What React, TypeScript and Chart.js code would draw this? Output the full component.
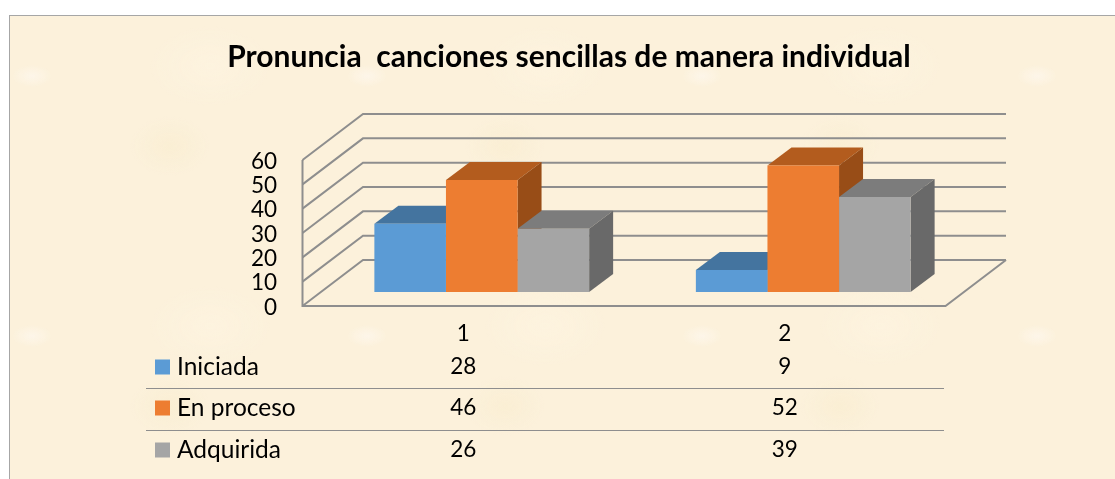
import React, { useEffect, useRef } from "react";
import { Chart, registerables } from "chart.js";

Chart.register(...registerables);

const categories = ["1", "2"];
const seriesNames = ["Iniciada", "En proceso", "Adquirida"];
const iniciada = [28, 9];
const enProceso = [46, 52];
const adquirida = [26, 39];
const frontColors = ["#5B9BD5", "#ED7D31", "#A5A5A5"];
const topColors = ["#44749F", "#B35C1E", "#7C7C7C"];
const sideColors = ["#3E6A92", "#984D17", "#696969"];
const titleText = "Pronuncia  canciones sencillas de manera individual";
const FONT = "Lato, Carlito, Calibri, sans-serif";

const threeD = {
  id: "threeD",
  beforeDatasetsDraw(chart: any) {
    const { ctx, chartArea: a, scales } = chart;
    const y = scales.y;
    const frontDx = -18.5, frontDy = 14, backDx = 42, backDy = -32;
    ctx.save();
    ctx.strokeStyle = "#8E8E8E";
    ctx.lineWidth = 2;
    y.ticks.forEach((t: any) => {
      const py = y.getPixelForValue(t.value);
      ctx.beginPath();
      ctx.moveTo(a.left + frontDx, py + frontDy);
      ctx.lineTo(a.left + backDx, py + backDy);
      ctx.lineTo(a.right + backDx, py + backDy);
      ctx.stroke();
    });
    const y0 = y.getPixelForValue(0), yMax = y.getPixelForValue(y.max);
    ctx.beginPath();
    ctx.moveTo(a.left + frontDx, yMax + frontDy);
    ctx.lineTo(a.left + frontDx, y0 + frontDy);
    ctx.lineTo(a.right + frontDx, y0 + frontDy);
    ctx.lineTo(a.right + backDx, y0 + backDy);
    ctx.stroke();

    const dx = 24, dy = -18;
    chart.data.datasets.forEach((_: any, i: number) => {
      chart.getDatasetMeta(i).data.forEach((bar: any) => {
        const p = bar.getProps(["x", "y", "base", "width"], true);
        const l = p.x - p.width / 2, r = p.x + p.width / 2;
        ctx.fillStyle = topColors[i];
        ctx.beginPath();
        ctx.moveTo(l, p.y);
        ctx.lineTo(l + dx, p.y + dy);
        ctx.lineTo(r + dx, p.y + dy);
        ctx.lineTo(r, p.y);
        ctx.closePath();
        ctx.fill();
        ctx.fillStyle = sideColors[i];
        ctx.beginPath();
        ctx.moveTo(r, p.y);
        ctx.lineTo(r + dx, p.y + dy);
        ctx.lineTo(r + dx, p.base + dy);
        ctx.lineTo(r, p.base);
        ctx.closePath();
        ctx.fill();
      });
    });
    ctx.restore();
  },
  afterDraw(chart: any) {
    const { ctx, scales, data } = chart;
    const x = scales.x;
    const rowY = [367, 408, 450];
    const colOffset = -18.5;
    ctx.save();
    ctx.strokeStyle = "#8E8E8E";
    ctx.lineWidth = 1;
    [388.5, 430.5].forEach((ly) => {
      ctx.beginPath();
      ctx.moveTo(146, ly);
      ctx.lineTo(944, ly);
      ctx.stroke();
    });
    ctx.textBaseline = "middle";
    data.datasets.forEach((ds: any, i: number) => {
      ctx.fillStyle = frontColors[i];
      ctx.fillRect(155, rowY[i] - 7.5, 15, 15);
      ctx.fillStyle = "#000";
      ctx.textAlign = "left";
      ctx.font = `24.5px ${FONT}`;
      ctx.fillText(ds.label, 177, rowY[i]);
      ctx.textAlign = "center";
      ctx.font = `22.5px ${FONT}`;
      ds.data.forEach((v: number, j: number) => {
        ctx.fillText(String(v), x.getPixelForValue(j) + colOffset, rowY[i]);
      });
    });
    ctx.restore();
  },
};

export default function App() {
  const ref = useRef<HTMLCanvasElement>(null);
  useEffect(() => {
    document.body.style.margin = "0";
    document.body.style.background = "#fff";
    const chart = new Chart(ref.current!, {
      type: "bar",
      data: {
        labels: categories,
        datasets: [iniciada, enProceso, adquirida].map((d, i) => ({
          label: seriesNames[i],
          data: d,
          backgroundColor: frontColors[i],
          borderWidth: 0,
          categoryPercentage: 0.668,
          barPercentage: 1,
        })),
      },
      options: {
        animation: false,
        responsive: false,
        layout: { padding: { left: 174, right: 151, top: 39, bottom: 0 } },
        plugins: {
          legend: { display: false },
          tooltip: { enabled: false },
          title: {
            display: true,
            text: titleText,
            color: "#000",
            font: { family: FONT, size: 30, weight: "bold", lineHeight: 1.2 },
            padding: { top: 0, bottom: 71 },
          },
        },
        scales: {
          x: {
            grid: { display: false, drawTicks: false },
            border: { display: false },
            afterFit: (s: any) => { s.height = 187; },
            ticks: {
              color: "#000",
              font: { family: FONT, size: 22.5 },
              padding: 28,
              labelOffset: -18.5,
              maxRotation: 0,
              autoSkip: false,
            },
          },
          y: {
            min: 0,
            max: 60,
            grid: { display: false, drawTicks: false },
            border: { display: false },
            afterFit: (s: any) => { s.width = 147; },
            ticks: {
              color: "#000",
              font: { family: FONT, size: 22.5 },
              stepSize: 10,
              autoSkip: false,
              padding: 44,
              labelOffset: 15.5,
            },
          },
        },
      },
      plugins: [threeD],
    } as any);
    return () => chart.destroy();
  }, []);

  const texture = [
    "radial-gradient(ellipse 20px 11px at 22px 60px, rgba(255,250,245,.55), transparent)",
    "radial-gradient(ellipse 60px 40px at 200px 50px, rgba(255,247,230,.35), transparent)",
    "radial-gradient(ellipse 40px 30px at 160px 130px, rgba(245,232,195,.3), transparent)",
  ].join(",");

  return (
    <div style={{ position: "fixed", left: 0, top: 0, width: 1115, height: 479, background: "#fff", overflow: "hidden" }}>
      <div
        style={{
          position: "absolute",
          left: 9,
          top: 15,
          width: 1120,
          height: 480,
          boxSizing: "border-box",
          border: "1px solid #A6A6A6",
          backgroundColor: "#FCF1DB",
          backgroundImage: texture,
          backgroundSize: "335px 260px",
        }}
      />
      <canvas ref={ref} width={1115} height={479} style={{ position: "absolute", left: 0, top: 0 }} />
    </div>
  );
}
